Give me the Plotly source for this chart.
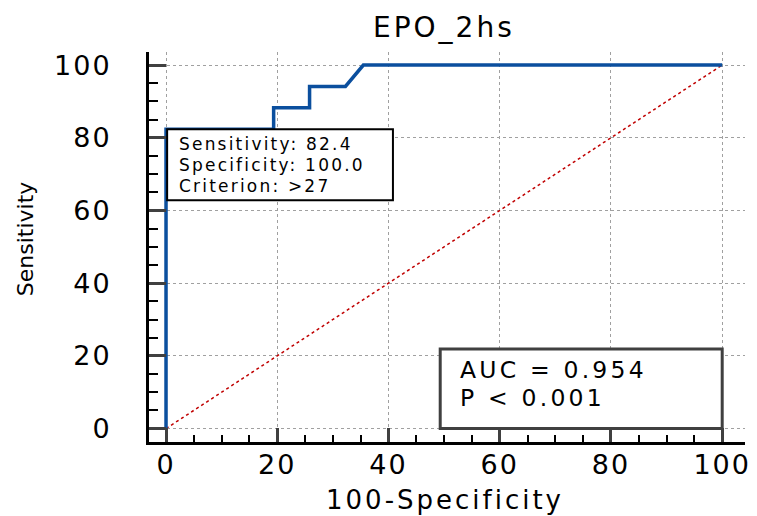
import plotly.graph_objects as go

# ROC curve points (100-Specificity, Sensitivity)
roc_fpr = [0, 0, 19.35, 19.35, 25.81, 25.81, 32.26, 35.48, 100]
roc_sens = [0, 82.35, 82.35, 88.24, 88.24, 94.12, 94.12, 100, 100]
ref_x = [0, 100]
ref_y = [0, 100]
tick_vals = [0, 20, 40, 60, 80, 100]
tick_text = ["0", "20", "40", "60", "80", "100"]
chart_title = "EPO_2hs"
x_title = "100-Specificity"
y_title = "Sensitivity"
criterion_lines = ["Sensitivity: 82.4", "Specificity: 100.0", "Criterion: >27"]
auc_lines = ["AUC = 0.954", "P < 0.001"]

FONT = "DejaVu Sans"
BLUE = "#0b4f9e"


def esc(t):
    return t.replace("&", "&amp;").replace("<", "&lt;").replace(">", "&gt;")


def wide(t, spacing, px=None):
    style = "letter-spacing:%gpx" % spacing
    if px:
        style += ";font-size:%gpx" % px
    return '<span style="%s">%s</span>' % (style, esc(t))


fig = go.Figure()
fig.add_trace(go.Scatter(x=ref_x, y=ref_y, mode="lines",
                         line=dict(color="#c00000", width=1.5, dash="dot"),
                         hoverinfo="skip", showlegend=False))
fig.add_trace(go.Scatter(x=roc_fpr, y=roc_sens, mode="lines",
                         line=dict(color=BLUE, width=3.5),
                         showlegend=False))

axis_common = dict(
    tickvals=tick_vals, ticktext=[wide(t, 2) for t in tick_text], automargin=False,
    showgrid=True, gridcolor="#a0a0a0", griddash="dot", gridwidth=1,
    zeroline=False, showline=True, linecolor="black", linewidth=3,
    ticks="inside", tickcolor="#404040", tickwidth=3,
    tickfont=dict(family=FONT, size=27, color="black"),
)

fig.update_xaxes(range=[-3.06, 104.1], ticklen=14, ticklabelstandoff=-3,
                 minor=dict(dtick=5, ticks="inside", ticklen=7, tickwidth=2,
                            tickcolor="black", showgrid=False),
                 **axis_common)
fig.update_yaxes(range=[-3.7, 103.6], ticklen=17, ticklabelstandoff=29,
                 minor=dict(dtick=5, ticks="inside", ticklen=9, tickwidth=2,
                            tickcolor="black", showgrid=False),
                 **axis_common)

# Criterion box
fig.add_shape(type="rect", xref="x", yref="y", x0=0.2, x1=40.8, y0=62.8, y1=82.35,
              line=dict(color="black", width=2), fillcolor="white", layer="above")
fig.add_annotation(x=2.0, y=72.5, xref="x", yref="y", xanchor="left", yanchor="middle",
                   text="<br>".join(wide(t, 2.2, 17) for t in criterion_lines),
                   showarrow=False, align="left",
                   font=dict(family=FONT, size=16, color="black"))

# AUC box
fig.add_shape(type="rect", xref="x", yref="y", x0=49.3, x1=100, y0=0, y1=21.9,
              line=dict(color="#404040", width=3), fillcolor="white", layer="above")
fig.add_annotation(x=52.5, y=12.2, xref="x", yref="y", xanchor="left", yanchor="middle",
                   text="<br>".join(wide(t, 3.2, 23.5) for t in auc_lines),
                   showarrow=False, align="left",
                   font=dict(family=FONT, size=21.5, color="black"))

# Title and axis titles
fig.add_annotation(x=0.495, y=(442 - 27) / 390, xref="paper", yref="paper",
                   text=wide(chart_title, 3),
                   showarrow=False, xanchor="center", yanchor="middle",
                   font=dict(family=FONT, size=28, color="black"))
fig.add_annotation(x=0.497, y=(442 - 500) / 390, xref="paper", yref="paper",
                   text=wide(x_title, 3),
                   showarrow=False, xanchor="center", yanchor="middle",
                   font=dict(family=FONT, size=26, color="black"))
fig.add_annotation(x=(25 - 149) / 596, y=0.52, xref="paper", yref="paper", text=y_title,
                   showarrow=False, textangle=-90, xanchor="center", yanchor="middle",
                   font=dict(family=FONT, size=22, color="black"))

fig.update_layout(
    width=757, height=516,
    margin=dict(l=149, r=12, t=52, b=74),
    paper_bgcolor="white", plot_bgcolor="white",
)

fig.write_html("out.html", config={"displayModeBar": False},
               post_script="document.body.style.margin='0px';")
